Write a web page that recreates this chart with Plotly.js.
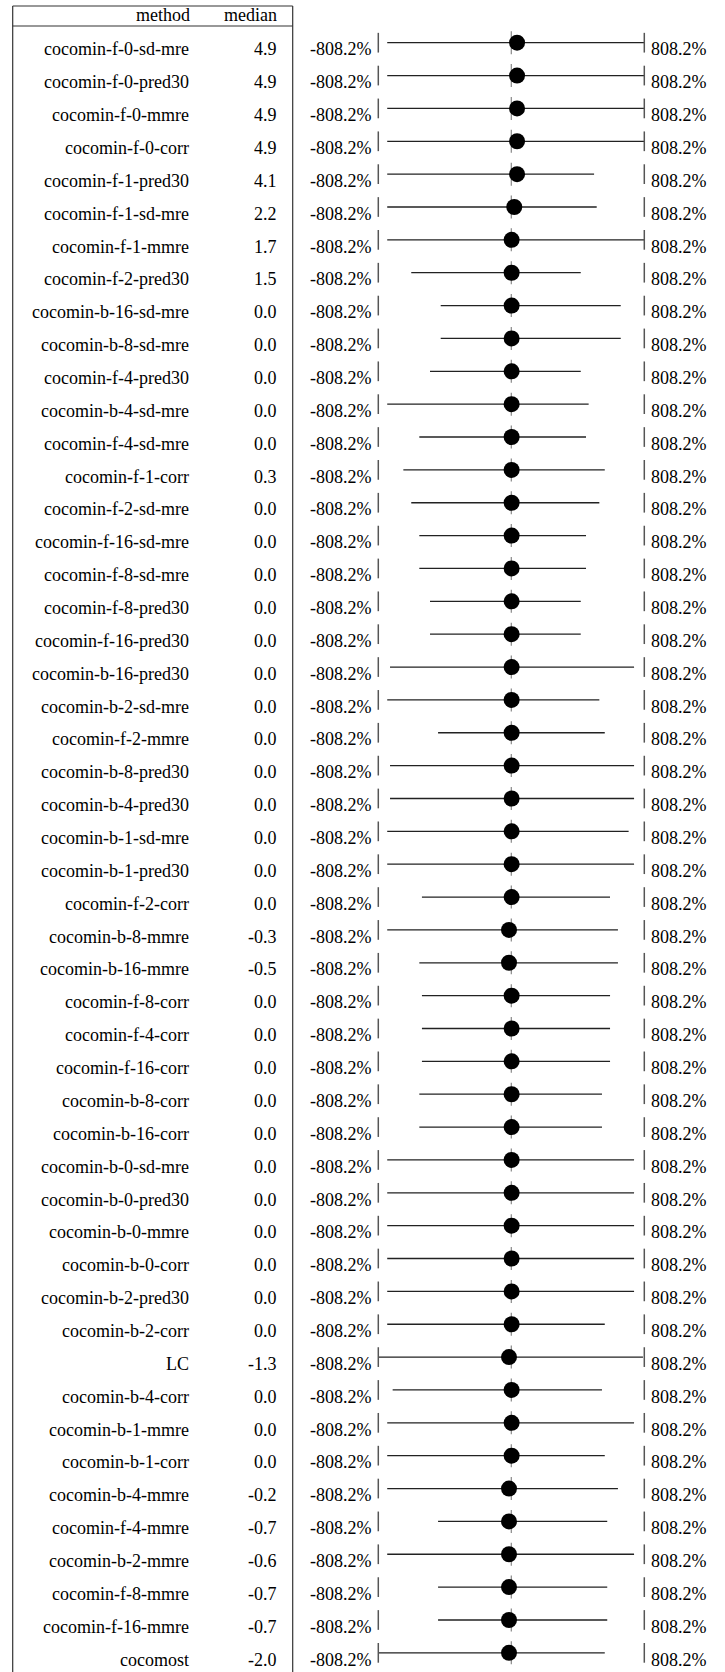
<!DOCTYPE html>
<html>
<head>
<meta charset="utf-8">
<script src="https://cdn.plot.ly/plotly-3.0.1.min.js"></script>
<style>html,body{margin:0;padding:0;background:#fff;}#chart{width:725px;height:1672px;}</style>
</head>
<body>
<div id="chart"></div>
<script>
// ---- data ----
const methods = [
  "cocomin-f-0-sd-mre","cocomin-f-0-pred30","cocomin-f-0-mmre","cocomin-f-0-corr",
  "cocomin-f-1-pred30","cocomin-f-1-sd-mre","cocomin-f-1-mmre","cocomin-f-2-pred30",
  "cocomin-b-16-sd-mre","cocomin-b-8-sd-mre","cocomin-f-4-pred30","cocomin-b-4-sd-mre",
  "cocomin-f-4-sd-mre","cocomin-f-1-corr","cocomin-f-2-sd-mre","cocomin-f-16-sd-mre",
  "cocomin-f-8-sd-mre","cocomin-f-8-pred30","cocomin-f-16-pred30","cocomin-b-16-pred30",
  "cocomin-b-2-sd-mre","cocomin-f-2-mmre","cocomin-b-8-pred30","cocomin-b-4-pred30",
  "cocomin-b-1-sd-mre","cocomin-b-1-pred30","cocomin-f-2-corr","cocomin-b-8-mmre",
  "cocomin-b-16-mmre","cocomin-f-8-corr","cocomin-f-4-corr","cocomin-f-16-corr",
  "cocomin-b-8-corr","cocomin-b-16-corr","cocomin-b-0-sd-mre","cocomin-b-0-pred30",
  "cocomin-b-0-mmre","cocomin-b-0-corr","cocomin-b-2-pred30","cocomin-b-2-corr",
  "LC","cocomin-b-4-corr","cocomin-b-1-mmre","cocomin-b-1-corr",
  "cocomin-b-4-mmre","cocomin-f-4-mmre","cocomin-b-2-mmre","cocomin-f-8-mmre",
  "cocomin-f-16-mmre","cocomost"
];
const medians = [
  4.9,4.9,4.9,4.9,4.1,2.2,1.7,1.5,
  0.0,0.0,0.0,0.0,0.0,0.3,0.0,0.0,
  0.0,0.0,0.0,0.0,0.0,0.0,0.0,0.0,
  0.0,0.0,0.0,-0.3,-0.5,0.0,0.0,0.0,
  0.0,0.0,0.0,0.0,0.0,0.0,0.0,0.0,
  -1.3,0.0,0.0,0.0,-0.2,-0.7,-0.6,-0.7,
  -0.7,-2.0
];
// whisker ends and dot position, in the plot's own units (-808.2 .. 808.2)
const loVals = [
  -754,-754,-754,-754,-754,-754,-754,-608,
  -429,-429,-494,-754,-559,-656,-608,-559,
  -559,-494,-494,-737,-754,-445,-737,-737,
  -754,-754,-543,-754,-559,-543,-543,-543,
  -559,-559,-754,-754,-754,-754,-754,-754,
  -808.2,-721,-754,-754,-754,-445,-754,-445,
  -445,-808.2
];
const hiVals = [
  808.2,808.2,808.2,808.2,503,519,808.2,422,
  665,665,422,470,454,568,535,454,
  454,422,422,746,535,568,746,746,
  713,746,600,648,648,600,600,600,
  551,551,746,746,746,746,746,568,
  800,551,746,568,648,583,746,583,
  583,568
];
const dotVals = [
  35,35,35,35,35,18,2,2,
  2,2,2,2,2,2,2,2,
  2,2,2,2,2,2,2,2,
  2,2,2,-14,-14,2,2,2,
  2,2,2,2,2,2,2,2,
  -14,2,2,2,-14,-14,-14,-14,
  -14,-14
];
const rangeMin = -808.2, rangeMax = 808.2;
const minLabel = "-808.2%", maxLabel = "808.2%";
const headers = ["method", "median"];

// ---- geometry ----
const W = 725, H = 1672;
const ROW0 = 42.7, PITCH = 32.86;
const X0PX = 511.3, PXU = 266 / (rangeMax - rangeMin);
const n = methods.length;
const font = () => ({family: "Liberation Serif", size: 18, color: "#000"});
const px = p => p / W;
const py = p => 1 - p / H;

const wx = [], wy = [], cx = [], cy = [], bx = [], by = [];
for (let i = 0; i < n; i++) {
  wx.push(loVals[i], hiVals[i], null); wy.push(i, i, null);
  cx.push(0, 0, null); cy.push(i - 0.35, i + 0.35, null);
  bx.push(rangeMin, rangeMin, null, rangeMax, rangeMax, null);
  by.push(i - 0.3, i + 0.3, null, i - 0.3, i + 0.3, null);
}
const rows = methods.map((_, i) => i);

const traces = [
  {x: wx, y: wy, mode: "lines", line: {color: "#222", width: 1.3}, hoverinfo: "skip"},
  {x: cx, y: cy, mode: "lines", line: {color: "#888", width: 1.2}, hoverinfo: "skip"},
  {x: bx, y: by, mode: "lines", line: {color: "#555", width: 1.5}, hoverinfo: "skip"},
  {x: dotVals, y: rows, mode: "markers", marker: {color: "#000", size: 16}, hoverinfo: "skip"}
];

const ann = [];
const TY = -6.7;
for (let i = 0; i < n; i++) {
  ann.push({xref: "paper", yref: "y", x: px(191), y: i, yshift: TY, xanchor: "right", yanchor: "middle",
            text: methods[i], showarrow: false, font: font()});
  ann.push({xref: "paper", yref: "y", x: px(279), y: i, yshift: TY, xanchor: "right", yanchor: "middle",
            text: medians[i].toFixed(1), showarrow: false, font: font()});
  ann.push({xref: "x", yref: "y", x: rangeMin, y: i, xshift: -4.6, yshift: TY, xanchor: "right", yanchor: "middle",
            text: minLabel, showarrow: false, font: font()});
  ann.push({xref: "x", yref: "y", x: rangeMax, y: i, xshift: 4.6, yshift: TY, xanchor: "left", yanchor: "middle",
            text: maxLabel, showarrow: false, font: font()});
}
ann.push({xref: "paper", yref: "paper", x: px(192), y: py(14.7), xanchor: "right", yanchor: "middle",
          text: headers[0], showarrow: false, font: font()});
ann.push({xref: "paper", yref: "paper", x: px(279), y: py(14.7), xanchor: "right", yanchor: "middle",
          text: headers[1], showarrow: false, font: font()});

const LC = {color: "#333", width: 1.2};
const shapes = [
  {type: "line", xref: "paper", yref: "paper", x0: px(12.7), x1: px(12.7), y0: py(6), y1: 0, line: LC},
  {type: "line", xref: "paper", yref: "paper", x0: px(292.7), x1: px(292.7), y0: py(6), y1: 0, line: LC},
  {type: "line", xref: "paper", yref: "paper", x0: px(12.7), x1: px(292.7), y0: py(6), y1: py(6), line: LC},
  {type: "line", xref: "paper", yref: "paper", x0: px(12.7), x1: px(292.7), y0: py(26), y1: py(26), line: LC}
];

const layout = {
  width: W, height: H,
  margin: {l: 0, r: 0, t: 0, b: 0, pad: 0},
  paper_bgcolor: "#fff", plot_bgcolor: "#fff",
  showlegend: false,
  font: {family: "Liberation Serif", size: 18, color: "#000"},
  xaxis: {visible: false, range: [(0 - X0PX) / PXU, (W - X0PX) / PXU], fixedrange: true},
  yaxis: {visible: false, range: [(H - ROW0) / PITCH, (0 - ROW0) / PITCH], fixedrange: true},
  annotations: ann,
  shapes: shapes
};

Plotly.newPlot("chart", traces, layout, {displayModeBar: false, staticPlot: true});
</script>
</body>
</html>
